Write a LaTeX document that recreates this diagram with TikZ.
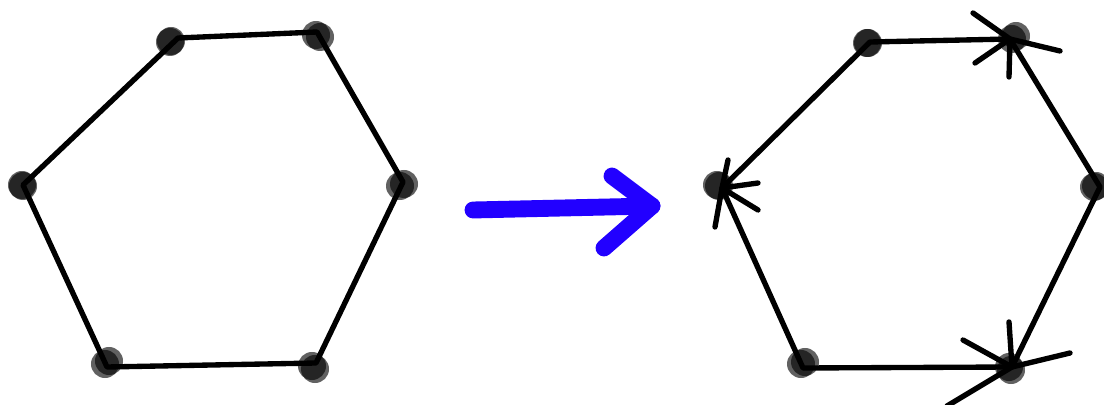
\documentclass[tikz,border=0pt]{standalone}
\usepackage{tikz}
\definecolor{sketchblue}{HTML}{2200FF}
\tikzset{
  edge/.style={draw=black,line width=3.8pt,line cap=round,line join=round},
  barb/.style={edge},
  vdot/.style={fill=black,fill opacity=0.62},
  bigarrow/.style={draw=sketchblue,line width=12pt,line cap=round,line join=round},
}

\begin{document}
\begin{tikzpicture}[x=0.025cm,y=-0.025cm]
  \useasboundingbox (0,0) rectangle (1104,405);
  % vertices of the two hexagons
  \coordinate (a1) at (178,38);  \coordinate (a2) at (317,32);
  \coordinate (a3) at (403,182); \coordinate (a4) at (316,363);
  \coordinate (a5) at (107,367); \coordinate (a6) at (23,185);
  \coordinate (b1) at (870,42);  \coordinate (b2) at (1010,39);
  \coordinate (b3) at (1100,187);\coordinate (b4) at (1012,367);
  \coordinate (b5) at (803,368); \coordinate (b6) at (722,188);
  % dots (drawn twice, slightly shifted)
  \foreach \x/\y/\dx/\dy in {170/42/1/-1,316/35/4/2,400/186/4/-2,312/366/3/3,105/364/4/-3,22/185/1/1,
    867/43/1/0,1012/39/4/-3,1094/187/2/-1,1009/367/2/3,801/364/4/-2,717/185/2/1} {
    \fill[vdot] (\x,\y) circle[radius=0.35cm];
    \fill[vdot] (\x+\dx,\y+\dy) circle[radius=0.35cm];
  }
  % left hexagon
  \draw[edge] (a1) -- (a2) -- (a3) -- (a4) -- (a5) -- (a6) -- cycle;
  % right hexagon, oriented
  \draw[edge] (b1) -- (b2) -- (b3) -- (b4) -- (b5) -- (b6) -- cycle;
  \draw[barb] (973,13) -- (b2) -- (975,63);
  \draw[barb] (1060,51) -- (b2) -- (1009,77);
  \draw[barb] (728,160) -- (b6) -- (758,183);
  \draw[barb] (758,210) -- (b6) -- (715,227);
  \draw[barb] (963,340) -- (b4) -- (947,406);
  \draw[barb] (1009,322) -- (b4) -- (1070,353);
  % blue arrow
  \coordinate (from) at (473,210); \coordinate (to) at (652,206);
  \draw[bigarrow] (from) -- (to);
  \draw[bigarrow] (612,176) -- (to) -- (604,248);
\end{tikzpicture}
\end{document}
